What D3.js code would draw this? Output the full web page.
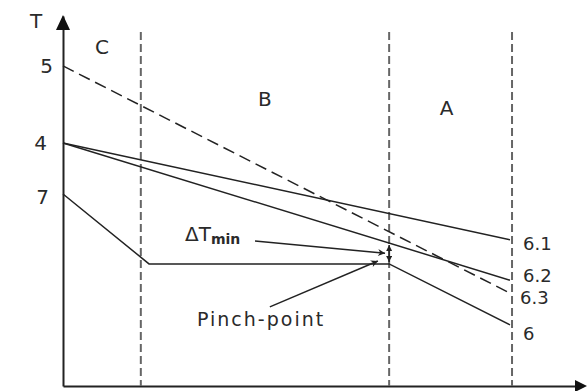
<!DOCTYPE html>
<html>
<head>
<meta charset="utf-8">
<script src="https://cdnjs.cloudflare.com/ajax/libs/d3/7.8.5/d3.min.js"></script>
<style>
  body { margin: 0; background: #fff; }
  svg { display: block; font-family: "DejaVu Sans", Verdana, sans-serif; fill: #2a2a2a; }
  .curve { fill: none; stroke: #222; stroke-width: 1.5; }
  .zone { stroke: #666; stroke-width: 2; stroke-dasharray: 8,4; }
  .axis path { stroke: #222; stroke-width: 2; }
</style>
</head>
<body>
<div id="chart"></div>
<script>
//////////
// DATA //
//////////

// x = heat flow (arbitrary units), y = temperature T (arbitrary units)
var zoneNames = ["C", "B", "A"];
var zoneBounds = [15.2, 63.7, 87.7];

var startLabels = ["5", "4", "7"];
var startT = [86.5, 65.7, 51.9];

var curveNames = ["6.1", "6.2", "6.3", "6"];
var curveQ = [[0, 87.3], [0, 87.3], [0, 87.3], [0, 16.8, 63.7, 87.3]];
var curveT = [[65.7, 39.5], [65.7, 28.6], [86.5, 25.1], [51.9, 33.0, 33.0, 16.5]];
var curveDashed = [false, false, true, false];

// pinch point and dT_min
var pinchQ = 63.7;
var pinchT = [38.1, 33.5];

// annotation arrows: [from, to] in data units
var dTminArrow = [[37.5, 39.2], [62.9, 35.9]];
var pinchArrow = [[40.4, 21.4], [61.5, 33.8]];

//////////////////////////////
// SVG AND GRAPH DIMENSIONS //
//////////////////////////////

var svgWidth = 587, svgHeight = 391;

var svg = d3.select("#chart").append("svg")
  .attr("width", svgWidth)
  .attr("height", svgHeight);

var x = d3.scaleLinear().domain([0, 100]).range([63, 575]);
var y = d3.scaleLinear().domain([0, 100]).range([386, 16]);

var defs = svg.append("defs");
defs.append("marker")
  .attr("id", "tri")
  .attr("viewBox", "0 0 10 10")
  .attr("refX", 10).attr("refY", 5)
  .attr("markerUnits", "userSpaceOnUse")
  .attr("markerWidth", 10).attr("markerHeight", 7)
  .attr("orient", "auto-start-reverse")
  .append("path").attr("d", "M0,0L10,5L0,10L3,5z").attr("fill", "#222");
defs.append("marker")
  .attr("id", "tri-small")
  .attr("viewBox", "0 0 10 10")
  .attr("refX", 10).attr("refY", 5)
  .attr("markerUnits", "userSpaceOnUse")
  .attr("markerWidth", 6).attr("markerHeight", 6)
  .attr("orient", "auto-start-reverse")
  .append("path").attr("d", "M0,0L10,5L0,10z").attr("fill", "#222");

//////////
// AXES //
//////////

svg.append("g")
  .attr("class", "axis")
  .attr("transform", "translate(0," + y(0) + ")")
  .call(d3.axisBottom(x).ticks(0).tickSizeOuter(0));

svg.append("g")
  .attr("class", "axis")
  .attr("transform", "translate(" + x(0) + ",0)")
  .call(d3.axisLeft(y).ticks(0).tickSizeOuter(0));

// arrow heads on axes
var xEnd = x.range()[1], yTop = y.range()[1];
svg.append("path")
  .attr("d", "M" + xEnd + "," + (y(0) - 6) + "L" + (xEnd + 12) + "," + y(0) + "L" + xEnd + "," + (y(0) + 6) + "z")
  .attr("fill", "#111");
svg.append("path")
  .attr("d", "M" + (x(0) - 7) + "," + (yTop + 14) + "L" + x(0) + "," + (yTop - 1) + "L" + (x(0) + 7) + "," + (yTop + 14) + "z")
  .attr("fill", "#111");

svg.append("text").attr("x", 30).attr("y", 28).style("font-size", "20px").text("T");

///////////
// ZONES //
///////////

svg.selectAll(".zone")
  .data(zoneBounds)
  .enter().append("line")
  .attr("class", "zone")
  .attr("x1", function (d) { return x(d); })
  .attr("x2", function (d) { return x(d); })
  .attr("y1", 32)
  .attr("y2", y(0));

var zoneLabelY = [54, 106, 115];
var zoneEdges = [0].concat(zoneBounds);
svg.selectAll(".zoneLabel")
  .data(zoneNames)
  .enter().append("text")
  .attr("class", "zoneLabel")
  .attr("text-anchor", "middle")
  .style("font-size", "20px")
  .attr("x", function (d, i) { return (x(zoneEdges[i]) + x(zoneEdges[i + 1])) / 2 - (i === 2 ? 4 : 0); })
  .attr("y", function (d, i) { return zoneLabelY[i]; })
  .text(function (d) { return d; });

////////////
// CURVES //
////////////

var line = d3.line()
  .x(function (d) { return x(d[0]); })
  .y(function (d) { return y(d[1]); });

svg.selectAll(".curve")
  .data(curveNames)
  .enter().append("path")
  .attr("class", "curve")
  .attr("stroke-dasharray", function (d, i) { return curveDashed[i] ? "12,6" : null; })
  .attr("d", function (d, i) { return line(d3.zip(curveQ[i], curveT[i])); });

// start labels on the T axis
svg.selectAll(".startLabel")
  .data(startLabels)
  .enter().append("text")
  .attr("class", "startLabel")
  .attr("text-anchor", "end")
  .style("font-size", "20px")
  .attr("x", function (d, i) { return x(0) - [10, 16, 14][i]; })
  .attr("y", function (d, i) { return y(startT[i]) + [7, 7, 10][i]; })
  .text(function (d) { return d; });

// end labels
var endDy = [10, 2, 11, 15];
var endDx = [13, 13, 10, 13];
svg.selectAll(".endLabel")
  .data(curveNames)
  .enter().append("text")
  .attr("class", "endLabel")
  .style("font-size", "18px")
  .attr("x", function (d, i) { return x(curveQ[i][curveQ[i].length - 1]) + endDx[i]; })
  .attr("y", function (d, i) { return y(curveT[i][curveT[i].length - 1]) + endDy[i]; })
  .text(function (d) { return d; });

/////////////////
// ANNOTATIONS //
/////////////////

svg.append("line")
  .attr("x1", x(pinchQ)).attr("x2", x(pinchQ))
  .attr("y1", y(pinchT[0])).attr("y2", y(pinchT[1]))
  .attr("stroke", "#222").attr("stroke-width", 1.5)
  .attr("marker-start", "url(#tri-small)")
  .attr("marker-end", "url(#tri-small)");

[dTminArrow, pinchArrow].forEach(function (a) {
  svg.append("line")
    .attr("x1", x(a[0][0])).attr("y1", y(a[0][1]))
    .attr("x2", x(a[1][0])).attr("y2", y(a[1][1]))
    .attr("stroke", "#222").attr("stroke-width", 1.5)
    .attr("marker-end", "url(#tri)");
});

var dT = svg.append("text")
  .attr("x", 185).attr("y", 241)
  .style("font-size", "20px");
dT.append("tspan").text("\u0394T");
dT.append("tspan").attr("dy", 3).style("font-size", "14px").style("font-weight", "bold").text("min");

svg.append("text")
  .attr("x", 197).attr("y", 326)
  .style("font-size", "19px")
  .style("letter-spacing", "2px")
  .text("Pinch-point");
</script>
</body>
</html>
